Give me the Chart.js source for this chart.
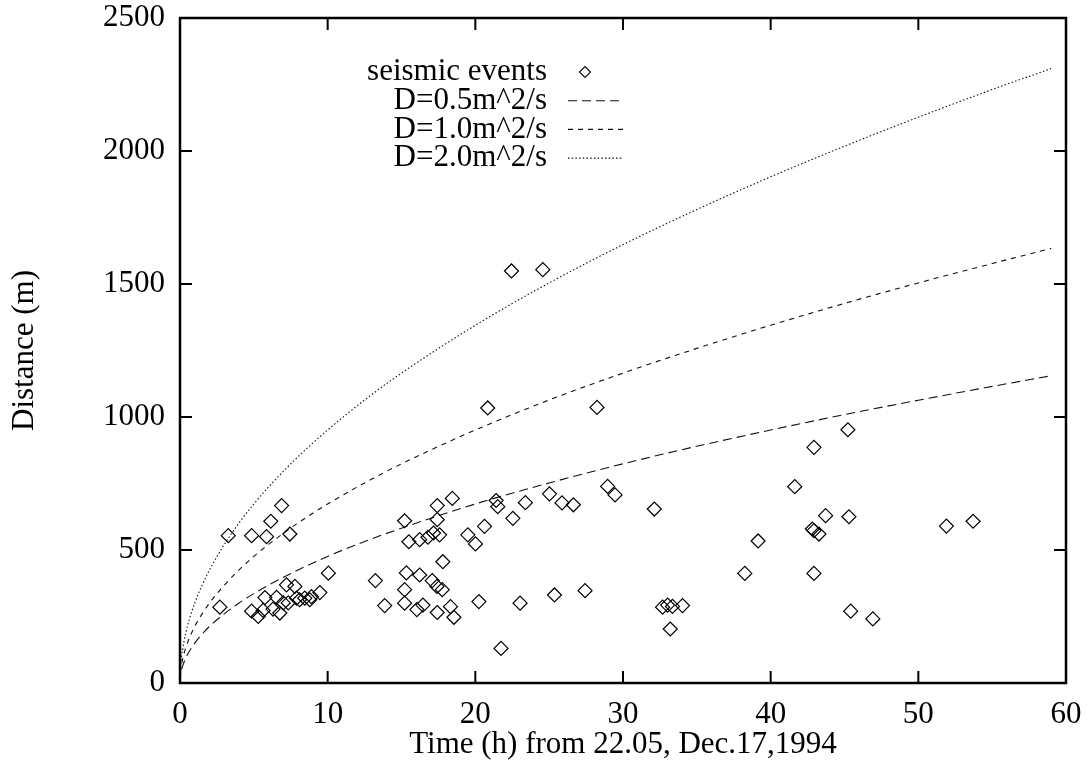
<!DOCTYPE html>
<html><head><meta charset="utf-8">
<script src="https://cdn.jsdelivr.net/npm/chart.js@4.4.1/dist/chart.umd.min.js"></script>
<style>html,body{margin:0;padding:0;background:#fff;}</style>
</head><body>
<canvas id="c" width="1087" height="762" style="display:block;width:1087px;height:762px"></canvas>
<script>
// ---- data ----
const eventTimes = [
  2.7, 3.27, 4.85, 5.86, 6.15, 6.88, 7.44,
  4.85, 5.3, 5.63, 5.75, 6.3, 6.54, 6.76, 6.99, 7.21, 7.33, 7.78, 7.89, 8.1, 8.45, 8.79, 8.9, 9.47, 10.05,
  13.23, 13.86, 15.21, 15.21, 15.21, 15.33, 15.5, 16.04, 16.23, 16.23, 16.45, 16.79, 17.08, 17.17, 17.4,
  17.42, 17.42, 17.42, 17.58, 17.76, 17.8, 18.32, 18.44, 18.55, 19.49, 20.01, 20.24, 20.62, 20.84, 21.41,
  21.52, 21.74, 22.45, 22.54, 23.03, 23.39, 24.57, 25.02, 25.36, 25.87, 26.64, 27.43, 28.24, 28.96, 29.46,
  32.12, 32.68, 33.02, 33.2, 33.35, 34.03,
  38.25, 39.15, 41.63, 42.82, 42.93, 42.93, 42.93, 43.27, 43.72, 45.23, 45.3, 45.42, 46.92, 51.9, 53.71
];
const eventDistances = [
  285, 554, 554, 550, 608, 667, 560,
  270, 250, 273, 321, 278, 322, 263, 301, 369, 301, 363, 319, 313, 319, 313, 325, 340, 413,
  385, 291, 610, 351, 300, 414, 531, 276, 539, 406, 293, 548, 385, 564, 363,
  667, 614, 265, 557, 351, 456, 287, 694, 247, 557, 523, 306, 589, 1034, 686,
  663, 130, 1549, 619, 300, 678, 1554, 711, 331, 677, 670, 347, 1036, 739, 707,
  654, 285, 293, 203, 288, 291,
  412, 534, 738, 579, 573, 886, 412, 560, 629, 952, 625, 270, 241, 590, 608
];
const curveTimes = [0, 0.05, 0.1, 0.25, 0.5, 1, 1.5, 2, 3, 4, 5, 6, 8, 10, 12.5, 15, 20, 25, 30, 35, 40, 45, 50, 55, 59];
const distD05 = [0, 34, 48, 75, 106, 150, 184, 213, 260, 301, 336, 368, 425, 476, 532, 582, 673, 752, 824, 890, 951, 1009, 1063, 1115, 1155];
const distD10 = [0, 48, 67, 106, 150, 213, 260, 301, 368, 425, 476, 521, 602, 673, 752, 824, 951, 1064, 1165, 1258, 1345, 1427, 1504, 1577, 1634];
const distD20 = [0, 67, 95, 150, 213, 301, 368, 425, 521, 602, 673, 737, 851, 951, 1064, 1165, 1345, 1504, 1648, 1780, 1903, 2018, 2127, 2231, 2310];
const seriesLabels = ['seismic events', 'D=0.5m^2/s', 'D=1.0m^2/s', 'D=2.0m^2/s'];
const xAxisTitle = 'Time (h) from 22.05, Dec.17,1994';
const yAxisTitle = 'Distance (m)';

const FONT = 'Liberation Serif, Times New Roman, serif';
const FS = 31;
const zip = (xs, ys) => xs.map((x, i) => ({x: x, y: ys[i]}));

const lineDs = (label, ys, dash) => ({
  label: label, data: zip(curveTimes, ys), showLine: true, pointRadius: 0, pointHoverRadius: 0,
  borderColor: '#111', borderWidth: 1.1, borderDash: dash, fill: false,
  cubicInterpolationMode: 'monotone', tension: 0.4
});

const framePlugin = {
  id: 'frame',
  afterDatasetsDraw(chart) {
    const ctx = chart.ctx, a = chart.chartArea;
    const xs = chart.scales.x, ys = chart.scales.y;
    ctx.save();
    ctx.strokeStyle = '#000';
    ctx.lineWidth = 2;
    ctx.beginPath();
    xs.ticks.forEach(t => {
      const p = xs.getPixelForValue(t.value);
      ctx.moveTo(p, a.bottom); ctx.lineTo(p, a.bottom - 12);
      ctx.moveTo(p, a.top); ctx.lineTo(p, a.top + 12);
    });
    ys.ticks.forEach(t => {
      const p = ys.getPixelForValue(t.value);
      ctx.moveTo(a.left, p); ctx.lineTo(a.left + 12, p);
      ctx.moveTo(a.right, p); ctx.lineTo(a.right - 12, p);
    });
    ctx.stroke();
    ctx.lineWidth = 2.5;
    ctx.strokeRect(a.left, a.top, a.right - a.left, a.bottom - a.top);
    ctx.restore();
  }
};

const legendPlugin = {
  id: 'legendInside',
  afterDraw(chart) {
    const ctx = chart.ctx;
    ctx.save();
    ctx.font = FS + 'px ' + FONT;
    ctx.fillStyle = '#000';
    ctx.textAlign = 'right';
    ctx.textBaseline = 'middle';
    chart.data.datasets.forEach((ds, i) => {
      const y = 72 + i * 28.7;
      ctx.fillText(ds.label, 547, y);
      ctx.strokeStyle = '#111';
      if (i === 0) {
        ctx.lineWidth = 1.2;
        ctx.setLineDash([]);
        const cx = 585, r = 5.5;
        ctx.beginPath();
        ctx.moveTo(cx, y - r); ctx.lineTo(cx + r, y); ctx.lineTo(cx, y + r); ctx.lineTo(cx - r, y); ctx.closePath();
        ctx.stroke();
      } else {
        ctx.lineWidth = 1.1;
        ctx.setLineDash(ds.borderDash);
        ctx.beginPath();
        ctx.moveTo(568, y); ctx.lineTo(623, y);
        ctx.stroke();
      }
    });
    ctx.restore();
  }
};

new Chart(document.getElementById('c'), {
  type: 'scatter',
  data: {
    datasets: [
      {
        label: seriesLabels[0], data: zip(eventTimes, eventDistances),
        pointStyle: 'rectRot', pointRadius: 7, pointHoverRadius: 7,
        borderColor: '#000', borderWidth: 1.2, backgroundColor: 'rgba(0,0,0,0)'
      },
      lineDs(seriesLabels[1], distD05, [9, 5]),
      lineDs(seriesLabels[2], distD10, [5, 5]),
      lineDs(seriesLabels[3], distD20, [1.5, 2.2])
    ]
  },
  options: {
    responsive: false, devicePixelRatio: 1, animation: false,
    layout: {padding: {top: 18, right: 21, left: 0, bottom: 0}},
    plugins: {legend: {display: false}, tooltip: {enabled: false}},
    scales: {
      x: {
        type: 'linear', min: 0, max: 60,
        grid: {display: false, drawTicks: false}, border: {display: false},
        ticks: {stepSize: 10, color: '#000', font: {family: FONT, size: FS}, padding: 13, maxRotation: 0,
                callback: v => String(v)},
        title: {display: true, text: xAxisTitle, color: '#000', font: {family: FONT, size: FS}, padding: {top: 0, bottom: -1}},
        afterFit(s) { s.height = 79; s.paddingLeft = 0; s.paddingRight = 0; }
      },
      y: {
        type: 'linear', min: 0, max: 2500,
        grid: {display: false, drawTicks: false}, border: {display: false},
        ticks: {stepSize: 500, color: '#000', font: {family: FONT, size: FS}, padding: 15,
                callback: v => String(v)},
        title: {display: true, text: yAxisTitle, color: '#000', font: {family: FONT, size: FS}, padding: {top: 6, bottom: 0}},
        afterFit(s) { s.width = 180; s.paddingTop = 0; s.paddingBottom = 0; }
      }
    }
  },
  plugins: [framePlugin, legendPlugin]
});
</script>
</body></html>
